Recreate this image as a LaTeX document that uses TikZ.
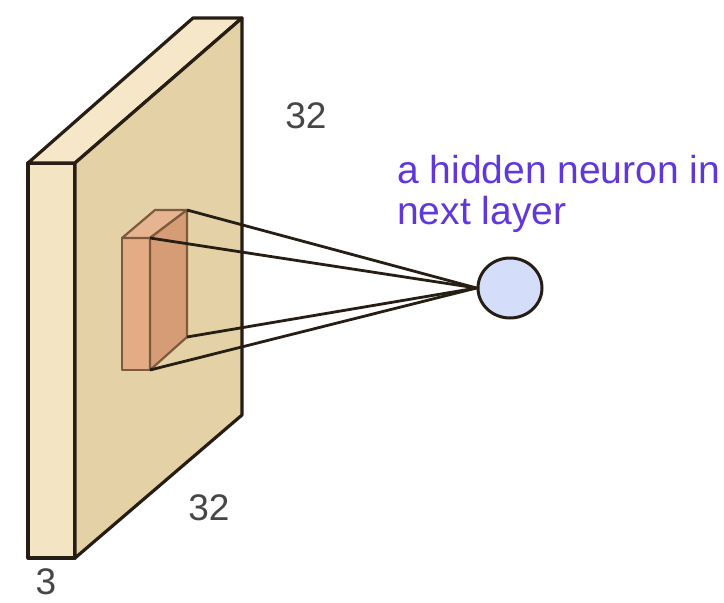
\documentclass[tikz,border=0pt]{standalone}
\usepackage{fontspec}
\setmainfont{Liberation Sans}
\usetikzlibrary{shapes.geometric}
\definecolor{slabfront}{RGB}{243,228,196}
\definecolor{slabtop}{RGB}{246,231,200}
\definecolor{slabside}{RGB}{229,209,166}
\definecolor{slabedge}{RGB}{38,30,20}
\definecolor{boxfront}{RGB}{228,172,132}
\definecolor{boxtop}{RGB}{230,180,145}
\definecolor{boxside}{RGB}{214,156,118}
\definecolor{boxedge}{RGB}{125,90,62}
\definecolor{neuronfill}{RGB}{212,222,250}
\definecolor{numgrey}{RGB}{70,70,70}
\definecolor{labelpurple}{RGB}{95,55,220}
\tikzset{
  slabface/.style={draw=slabedge, line width=3.2pt, line join=round},
  boxface/.style={draw=boxedge, line width=2.2pt, line join=round},
  link/.style={draw=slabedge, line width=2.8pt},
  numlabel/.style={text=numgrey, font=\fontsize{37}{40}\selectfont, inner sep=0pt},
  textlabel/.style={text=labelpurple, font=\fontsize{39}{42}\selectfont, inner sep=0pt, anchor=base west},
  neuronstyle/.style={ellipse, draw=slabedge, line width=3pt, fill=neuronfill, minimum width=64pt, minimum height=60pt, inner sep=0pt}
}
\begin{document}
\begin{tikzpicture}[x=1pt,y=-1pt]
\useasboundingbox (0,0) rectangle (724,603);
\clip (0,0) rectangle (724,603);
\fill[white] (0,0) rectangle (724,603);
% slab
\draw[slabface, fill=slabfront] (28,163) -- (75,163) -- (75,558) -- (28,558) -- cycle;
\draw[slabface, fill=slabtop] (28,163) -- (193,18) -- (242,18) -- (75,163) -- cycle;
\draw[slabface, fill=slabside] (75,163) -- (242,18) -- (242,415) -- (75,558) -- cycle;
% receptive field box
\draw[boxface, fill=boxfront] (122,238) -- (150,238) -- (150,370) -- (122,370) -- cycle;
\draw[boxface, fill=boxtop] (122,238) -- (155,210) -- (187,210) -- (150,238) -- cycle;
\draw[boxface, fill=boxside] (150,238) -- (187,210) -- (187,337) -- (150,370) -- cycle;
\coordinate (tb) at (187,210);
\coordinate (tf) at (150,238);
\coordinate (bb) at (187,337);
\coordinate (bf) at (150,370);
% neuron
\node[neuronstyle] (neuron) at (510,288) {};
\draw[link] (tb) -- (neuron.west);
\draw[link] (tf) -- (neuron.west);
\draw[link] (bb) -- (neuron.west);
\draw[link] (bf) -- (neuron.west);
% labels
\node[numlabel] (w32) at (306,116) {32};
\node[numlabel] (h32) at (209,508) {32};
\node[numlabel] (d3) at (46,582) {3};
\node[textlabel] (t1) at (397,183) {a hidden neuron in};
\node[textlabel] (t2) at (397,224) {next layer};
\end{tikzpicture}
\end{document}
